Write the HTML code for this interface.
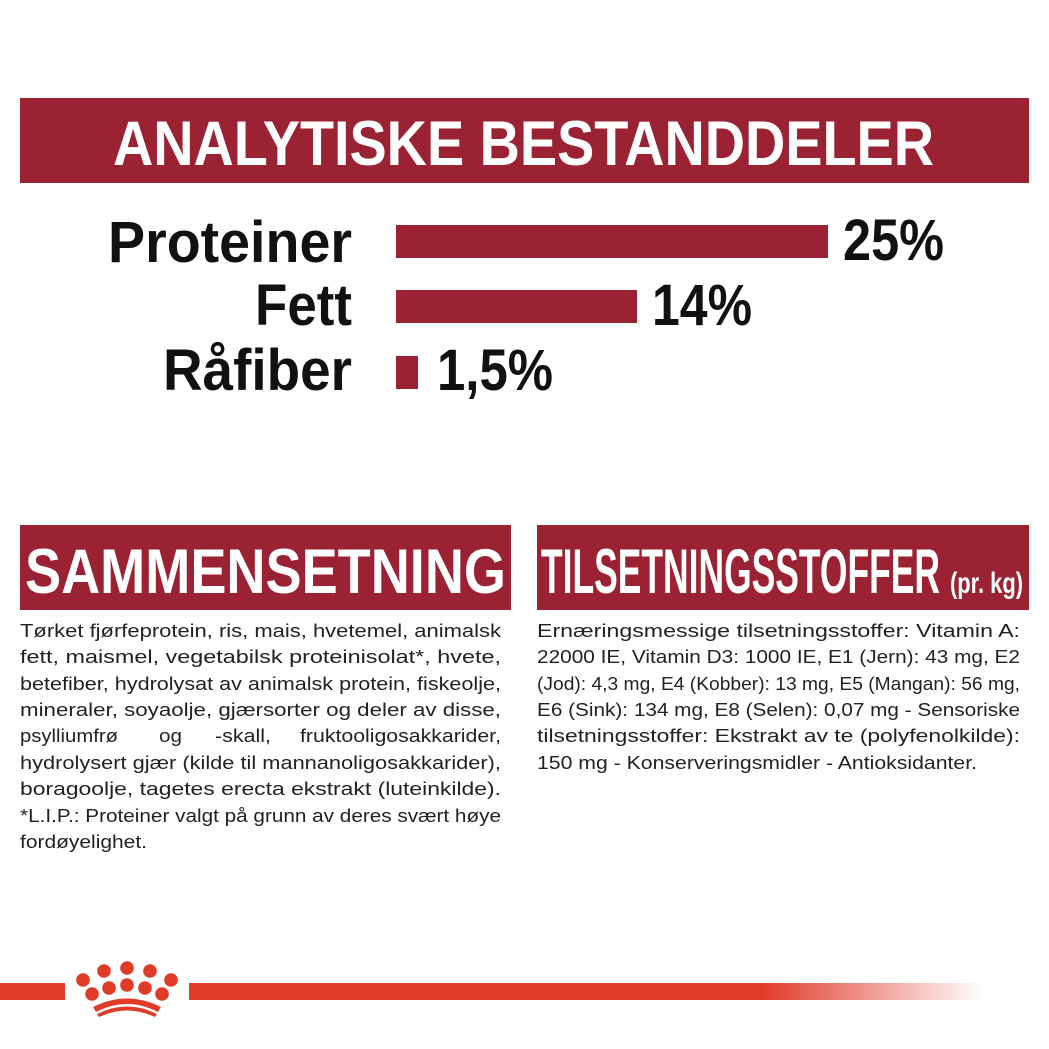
<!DOCTYPE html>
<html><head><meta charset="utf-8"><style>
body{margin:0;background:#fff;}
svg{display:block}
</style></head><body>
<svg width="1049" height="1049" viewBox="0 0 1049 1049" xmlns="http://www.w3.org/2000/svg" font-family="Liberation Sans, sans-serif">
<defs>
<linearGradient id="fade" x1="0" x2="1">
<stop offset="0" stop-color="#e03a28"/><stop offset="0.72" stop-color="#e03a28"/><stop offset="1" stop-color="#e03a28" stop-opacity="0"/>
</linearGradient>
</defs>
<rect x="20" y="98" width="1009" height="85" fill="#9b2232"/>
<text x="113" y="165" font-size="63" font-weight="bold" fill="#fff" textLength="821" lengthAdjust="spacingAndGlyphs">ANALYTISKE BESTANDDELER</text>

<g font-weight="bold" fill="#111" font-size="58">
<text x="108" y="262" textLength="244" lengthAdjust="spacingAndGlyphs">Proteiner</text>
<text x="255" y="325" textLength="97" lengthAdjust="spacingAndGlyphs">Fett</text>
<text x="163" y="390" textLength="189" lengthAdjust="spacingAndGlyphs">Råfiber</text>
<text x="843" y="260" textLength="101" lengthAdjust="spacingAndGlyphs">25%</text>
<text x="652" y="325" textLength="100" lengthAdjust="spacingAndGlyphs">14%</text>
<text x="437" y="390" textLength="116" lengthAdjust="spacingAndGlyphs">1,5%</text>
</g>
<rect x="396" y="225" width="432" height="33" fill="#9b2232"/>
<rect x="396" y="290" width="241" height="33" fill="#9b2232"/>
<rect x="396" y="356" width="22" height="33" fill="#9b2232"/>

<rect x="20" y="525" width="491" height="85" fill="#9b2232"/>
<text x="25" y="593" font-size="63" font-weight="bold" fill="#fff" textLength="481" lengthAdjust="spacingAndGlyphs">SAMMENSETNING</text>
<rect x="537" y="525" width="492" height="85" fill="#9b2232"/>
<text x="541" y="593" font-size="63" font-weight="bold" fill="#fff" textLength="399" lengthAdjust="spacingAndGlyphs">TILSETNINGSSTOFFER</text>
<text x="950" y="593" font-size="30" font-weight="bold" fill="#fff" textLength="73" lengthAdjust="spacingAndGlyphs">(pr. kg)</text>

<g font-size="18" fill="#222">
<text x="20" y="637" textLength="481" lengthAdjust="spacingAndGlyphs">Tørket fjørfeprotein, ris, mais, hvetemel, animalsk</text>
<text x="20" y="663" textLength="481" lengthAdjust="spacingAndGlyphs">fett, maismel, vegetabilsk proteinisolat*, hvete,</text>
<text x="20" y="690" textLength="481" lengthAdjust="spacingAndGlyphs">betefiber, hydrolysat av animalsk protein, fiskeolje,</text>
<text x="20" y="716" textLength="481" lengthAdjust="spacingAndGlyphs">mineraler, soyaolje, gjærsorter og deler av disse,</text>
<text x="20" y="742" textLength="98" lengthAdjust="spacingAndGlyphs">psylliumfrø</text>
<text x="159" y="742" textLength="23" lengthAdjust="spacingAndGlyphs">og</text>
<text x="215" y="742" textLength="56" lengthAdjust="spacingAndGlyphs">-skall,</text>
<text x="300" y="742" textLength="201" lengthAdjust="spacingAndGlyphs">fruktooligosakkarider,</text>
<text x="20" y="769" textLength="481" lengthAdjust="spacingAndGlyphs">hydrolysert gjær (kilde til mannanoligosakkarider),</text>
<text x="20" y="795" textLength="481" lengthAdjust="spacingAndGlyphs">boragoolje, tagetes erecta ekstrakt (luteinkilde).</text>
<text x="20" y="822" textLength="481" lengthAdjust="spacingAndGlyphs">*L.I.P.: Proteiner valgt på grunn av deres svært høye</text>
<text x="20" y="848" textLength="127" lengthAdjust="spacingAndGlyphs">fordøyelighet.</text>

<text x="537" y="637" textLength="483" lengthAdjust="spacingAndGlyphs">Ernæringsmessige tilsetningsstoffer: Vitamin A:</text>
<text x="537" y="663" textLength="483" lengthAdjust="spacingAndGlyphs">22000 IE, Vitamin D3: 1000 IE, E1 (Jern): 43 mg, E2</text>
<text x="537" y="690" textLength="483" lengthAdjust="spacingAndGlyphs">(Jod): 4,3 mg, E4 (Kobber): 13 mg, E5 (Mangan): 56 mg,</text>
<text x="537" y="716" textLength="483" lengthAdjust="spacingAndGlyphs">E6 (Sink): 134 mg, E8 (Selen): 0,07 mg - Sensoriske</text>
<text x="537" y="742" textLength="483" lengthAdjust="spacingAndGlyphs">tilsetningsstoffer: Ekstrakt av te (polyfenolkilde):</text>
<text x="537" y="769" textLength="440" lengthAdjust="spacingAndGlyphs">150 mg - Konserveringsmidler - Antioksidanter.</text>
</g>

<rect x="0" y="983" width="65" height="17" fill="#e03a28"/>
<rect x="189" y="983" width="795" height="17" fill="url(#fade)"/>
<g fill="#e03a28">
<circle cx="83" cy="980" r="6.8"/>
<circle cx="104" cy="971" r="6.8"/><circle cx="127" cy="968" r="6.8"/><circle cx="150" cy="971" r="6.8"/>
<circle cx="171" cy="980" r="6.8"/>
<circle cx="92" cy="994" r="6.8"/><circle cx="109" cy="988" r="6.8"/>
<circle cx="127" cy="985" r="6.8"/><circle cx="145" cy="988" r="6.8"/>
<circle cx="162" cy="994" r="6.8"/>
<path d="M93 1007 Q127 990 161 1007 L158 1012 Q127 996 96 1012Z"/>
<path d="M97 1014 Q127 999 157 1014 L155 1017 Q127 1004 99 1017Z"/>
</g>
</svg>
</body></html>
